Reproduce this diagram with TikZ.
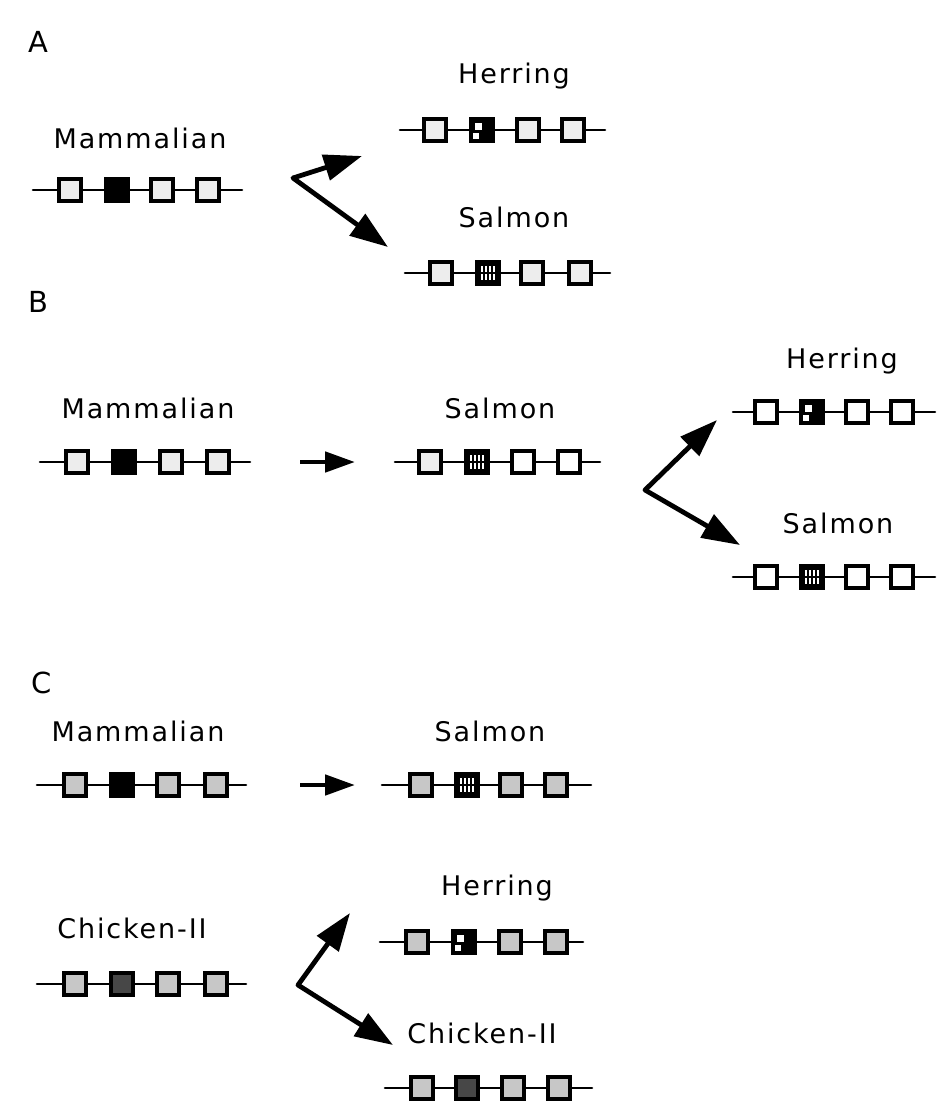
\documentclass[tikz,border=0pt]{standalone}
\usepackage{fontspec}
\setmainfont{DejaVu Sans}[LetterSpace=7]
\usetikzlibrary{arrows.meta, positioning}

\tikzset{
  gbox/.style={draw=black, line width=3.8pt, minimum size=22.5pt, inner sep=0pt, fill=white},
  plain/.style={gbox},
  lite/.style={gbox, fill=black!7},
  dots/.style={gbox, fill=black!22},
  blk/.style={gbox, fill=black},
  chick/.style={gbox, fill=black!72},
  herr/.style={gbox, fill=black, path picture={
      \fill[white] ([xshift=-7pt,yshift=0pt]path picture bounding box.center) rectangle ++(7pt,7pt);
      \fill[white] ([xshift=-9pt,yshift=-9pt]path picture bounding box.center) rectangle ++(6pt,6pt);}},
  salm/.style={gbox, fill=black, path picture={
      \foreach \i in {-6,-2,2,6} {
        \fill[white] ([xshift=\i*1pt-0.7pt,yshift=1pt]path picture bounding box.center) rectangle ++(1.4pt,6pt);
        \fill[white] ([xshift=\i*1pt-0.7pt,yshift=-7pt]path picture bounding box.center) rectangle ++(1.4pt,6pt);}}},
  gline/.style={line width=2.6pt, line cap=round},
  lbl/.style={anchor=base, font=\fontsize{27}{30}\selectfont},
  part/.style={anchor=center, font=\fontsize{29}{32}\selectfont},
  fat/.style={line width=4.8pt, line join=round},
  bigtip/.tip={Triangle[length=38pt, width=26pt]},
  smalltip/.tip={Triangle[length=30pt, width=20pt]},
}

\begin{document}
\begin{tikzpicture}[x=1pt, y=-1pt]
\useasboundingbox (0,0) rectangle (938,1103);

% ---------------- A ----------------
\node[part] (la) at (38,42) {A};

% mammalian
\node[lbl] (amt) at (140,148) {Mammalian};
\coordinate (am0) at (33,190);
\foreach \n/\x/\s in {1/70/lite, 2/117/blk, 3/162/lite, 4/208/lite}
  \node[\s] (am\n) at (\x,190) {};
\coordinate (am5) at (242,190);
\draw[gline] (am0) -- (am1) -- (am2) -- (am3) -- (am4) -- (am5);

% herring
\node[lbl] (aht) at (514,83) {Herring};
\coordinate (ah0) at (400,130);
\foreach \n/\x/\s in {1/435/lite, 2/482/herr, 3/528/lite, 4/573/lite}
  \node[\s] (ah\n) at (\x,130) {};
\coordinate (ah5) at (605,130);
\draw[gline] (ah0) -- (ah1) -- (ah2) -- (ah3) -- (ah4) -- (ah5);

% salmon
\node[lbl] (ast) at (514,227) {Salmon};
\coordinate (as0) at (405,273);
\foreach \n/\x/\s in {1/441/lite, 2/488/salm, 3/532/lite, 4/580/lite}
  \node[\s] (as\n) at (\x,273) {};
\coordinate (as5) at (610,273);
\draw[gline] (as0) -- (as1) -- (as2) -- (as3) -- (as4) -- (as5);

% fork
\coordinate (av) at (293,178);
\coordinate (au) at (362,156);
\coordinate (ad) at (388,247);
\draw[fat, {bigtip}-{bigtip}] (au) -- (av) -- (ad);

% ---------------- B ----------------
\node[part] (lb) at (38,302) {B};

% mammalian
\node[lbl] (bmt) at (148,418) {Mammalian};
\coordinate (bm0) at (40,462);
\foreach \n/\x/\s in {1/77/lite, 2/124/blk, 3/171/lite, 4/218/lite}
  \node[\s] (bm\n) at (\x,462) {};
\coordinate (bm5) at (250,462);
\draw[gline] (bm0) -- (bm1) -- (bm2) -- (bm3) -- (bm4) -- (bm5);

\coordinate (bp) at (300,462);
\coordinate (bq) at (355,462);
\draw[fat, -{smalltip}] (bp) -- (bq);

% salmon
\node[lbl] (bst) at (500,418) {Salmon};
\coordinate (bs0) at (395,462);
\foreach \n/\x/\s in {1/430/lite, 2/477/salm, 3/523/plain, 4/569/plain}
  \node[\s] (bs\n) at (\x,462) {};
\coordinate (bs5) at (600,462);
\draw[gline] (bs0) -- (bs1) -- (bs2) -- (bs3) -- (bs4) -- (bs5);

% fork
\coordinate (bv) at (645,490);
\coordinate (bu) at (717,420);
\coordinate (bd) at (740,545);
\draw[fat, {bigtip}-{bigtip}] (bu) -- (bv) -- (bd);

% herring
\node[lbl] (bht) at (842,368) {Herring};
\coordinate (bh0) at (733,412);
\foreach \n/\x/\s in {1/766/plain, 2/812/herr, 3/857/plain, 4/902/plain}
  \node[\s] (bh\n) at (\x,412) {};
\coordinate (bh5) at (935,412);
\draw[gline] (bh0) -- (bh1) -- (bh2) -- (bh3) -- (bh4) -- (bh5);

% salmon
\node[lbl] (btt) at (838,533) {Salmon};
\coordinate (bt0) at (733,577);
\foreach \n/\x/\s in {1/766/plain, 2/812/salm, 3/857/plain, 4/902/plain}
  \node[\s] (bt\n) at (\x,577) {};
\coordinate (bt5) at (935,577);
\draw[gline] (bt0) -- (bt1) -- (bt2) -- (bt3) -- (bt4) -- (bt5);

% ---------------- C ----------------
\node[part] (lc) at (42,683) {C};

% mammalian
\node[lbl] (cmt) at (138,741) {Mammalian};
\coordinate (cm0) at (37,785);
\foreach \n/\x/\s in {1/75/dots, 2/122/blk, 3/168/dots, 4/216/dots}
  \node[\s] (cm\n) at (\x,785) {};
\coordinate (cm5) at (246,785);
\draw[gline] (cm0) -- (cm1) -- (cm2) -- (cm3) -- (cm4) -- (cm5);

\coordinate (cp) at (300,785);
\coordinate (cq) at (355,785);
\draw[fat, -{smalltip}] (cp) -- (cq);

% salmon
\node[lbl] (cst) at (490,741) {Salmon};
\coordinate (cs0) at (382,785);
\foreach \n/\x/\s in {1/421/dots, 2/467/salm, 3/511/dots, 4/556/dots}
  \node[\s] (cs\n) at (\x,785) {};
\coordinate (cs5) at (591,785);
\draw[gline] (cs0) -- (cs1) -- (cs2) -- (cs3) -- (cs4) -- (cs5);

% chicken
\node[lbl] (cct) at (132,938) {Chicken-II};
\coordinate (cc0) at (37,984);
\foreach \n/\x/\s in {1/75/dots, 2/122/chick, 3/168/dots, 4/216/dots}
  \node[\s] (cc\n) at (\x,984) {};
\coordinate (cc5) at (246,984);
\draw[gline] (cc0) -- (cc1) -- (cc2) -- (cc3) -- (cc4) -- (cc5);

% herring
\node[lbl] (cht) at (497,895) {Herring};
\coordinate (ch0) at (380,942);
\foreach \n/\x/\s in {1/417/dots, 2/464/herr, 3/510/dots, 4/556/dots}
  \node[\s] (ch\n) at (\x,942) {};
\coordinate (ch5) at (583,942);
\draw[gline] (ch0) -- (ch1) -- (ch2) -- (ch3) -- (ch4) -- (ch5);

% fork
\coordinate (cv) at (298,985);
\coordinate (cu) at (350,913);
\coordinate (cd) at (393,1045);
\draw[fat, {bigtip}-{bigtip}] (cu) -- (cv) -- (cd);

% chicken
\node[lbl] (cdt) at (482,1043) {Chicken-II};
\coordinate (ck0) at (385,1088);
\foreach \n/\x/\s in {1/422/dots, 2/467/chick, 3/513/dots, 4/559/dots}
  \node[\s] (ck\n) at (\x,1088) {};
\coordinate (ck5) at (592,1088);
\draw[gline] (ck0) -- (ck1) -- (ck2) -- (ck3) -- (ck4) -- (ck5);
\end{tikzpicture}
\end{document}
